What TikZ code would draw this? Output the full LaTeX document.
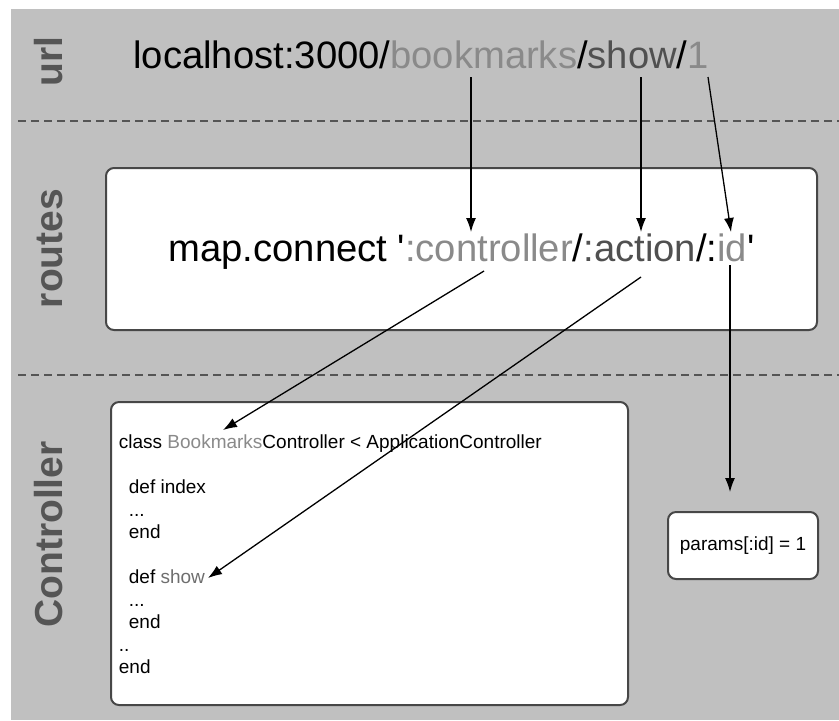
\documentclass[tikz,border=0pt]{standalone}
\usepackage{fontspec}
\setmainfont{Liberation Sans}
\usetikzlibrary{arrows.meta,positioning}
\definecolor{fond}{HTML}{C0C0C0}
\definecolor{clair}{HTML}{8A8A8A}
\definecolor{moyen}{HTML}{505050}
\definecolor{show}{HTML}{6E6E6E}
\definecolor{gristitre}{HTML}{555555}
\definecolor{bord}{HTML}{474747}

\begin{document}
\begin{tikzpicture}[x=0.5pt,y=-0.5pt]
        % Styles
        \tikzstyle{boite}=[draw=bord, line width=1pt, rounded corners=4pt, fill=white, inner sep=0pt]
        \tikzstyle{titre}=[rotate=90, anchor=base, text=gristitre, inner sep=0pt, font=\fontsize{19.5}{23}\selectfont\bfseries]
        \tikzstyle{grand}=[inner sep=0pt, font=\fontsize{19.1}{23}\selectfont]
        \tikzstyle{petit}=[inner sep=0pt, font=\fontsize{9.5}{11.25}\selectfont]
        \tikzstyle{fleche}=[-{Latex[length=7pt,width=5pt]}, line width=0.65pt]
        \tikzstyle{separation}=[draw=gristitre, line width=1pt, dash pattern=on 4pt off 2.5pt]

        \useasboundingbox (0,0) rectangle (839,720);
        \fill[fond] (11,9) rectangle (839,720);

        % Séparations
        \draw[separation] (18,121) -- (839,121);
        \draw[separation] (18,375) -- (839,375);

        % Titres
        \node[titre] (t-url) at (62,61.5) {url};
        \node[titre] (t-routes) at (62,248.5) {routes};
        \node[titre] (t-ctrl) at (62,534.5) {Controller};

        % Boîtes
        \node[boite, minimum width=355.5pt, minimum height=81pt] (routes) at (461.5,249) {};
        \node[boite, minimum width=258.5pt, minimum height=151.5pt] (ctrl) at (369.5,553.5) {};
        \node[boite, petit, minimum width=75pt, minimum height=33.5pt] (params) at (743,545.5) {params[:id] = 1};

        % Textes
        \node[grand, anchor=base west] (url) at (133,68)
          {localhost:3000/\textcolor{clair}{bookmarks}/\textcolor{moyen}{show}/\textcolor{clair}{1}};
        \node[grand, anchor=base] (map) at (461.5,261)
          {map.connect \textquotesingle\textcolor{clair}{:controller}/\textcolor{moyen}{:action}/:\textcolor{clair}{id}\textquotesingle};
        \node[petit, anchor=north west, align=left] (code) at (118.5,434.5)
          {class \textcolor{clair}{Bookmarks}Controller < ApplicationController\\
           \mbox{}\\
           \hspace*{5pt}def index\\
           \hspace*{5pt}...\\
           \hspace*{5pt}end\\
           \mbox{}\\
           \hspace*{5pt}def \textcolor{show}{show}\\
           \hspace*{5pt}...\\
           \hspace*{5pt}end\\
           ..\\
           end};

        % Points d'attache
        \coordinate (u-bm) at (471,77);
        \coordinate (u-show) at (641,77);
        \coordinate (u-id) at (708,77);
        \coordinate (r-ctl) at (471,232);
        \coordinate (r-act) at (641,232);
        \coordinate (r-id) at (731,232);
        \coordinate (r-ctl-bas) at (484,271);
        \coordinate (r-act-bas) at (641,277);
        \coordinate (r-id-bas) at (730,265);
        \coordinate (c-bm) at (223,430);
        \coordinate (c-show) at (208,578);
        \coordinate (p-id) at (730,492);

        % Flèches
        \draw[fleche] (u-bm) -- (r-ctl);
        \draw[fleche] (u-show) -- (r-act);
        \draw[fleche] (u-id) -- (r-id);
        \draw[fleche] (r-ctl-bas) -- (c-bm);
        \draw[fleche] (r-act-bas) -- (c-show);
        \draw[fleche] (r-id-bas) -- (p-id);
    \end{tikzpicture}
\end{document}
